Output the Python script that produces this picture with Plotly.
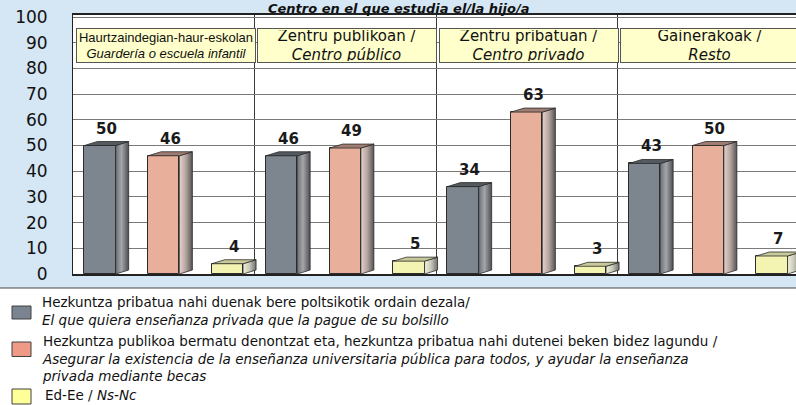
import plotly.graph_objects as go

# ---------------- data ----------------
categories_eu = ["Haurtzaindegian-haur-eskolan", "Zentru publikoan /", "Zentru pribatuan /", "Gainerakoak /"]
categories_es = ["Guardería o escuela infantil", "Centro público", "Centro privado", "Resto"]

private_pay = [50, 46, 34, 43]
public_guarantee = [46, 49, 63, 50]
ns_nc = [4, 5, 3, 7]

y_ticks = [0, 10, 20, 30, 40, 50, 60, 70, 80, 90, 100]

title_text = "Centro en el que estudia el/la hijo/a"

legend_lines = [
    ["Hezkuntza pribatua nahi duenak bere poltsikotik ordain dezala/",
     "<i>El que quiera enseñanza privada que la pague de su bolsillo</i>"],
    ["Hezkuntza publikoa bermatu denontzat eta, hezkuntza pribatua nahi dutenei beken bidez lagundu /",
     "<i>Asegurar la existencia de la enseñanza universitaria pública para todos, y ayudar la enseñanza</i>",
     "<i>privada mediante becas</i>"],
    ["Ed-Ee / <i>Ns-Nc</i>"],
]

# ---------------- styling ----------------
W, H = 796, 405
PL, PT, PW, PH = 73, 15, 723, 259
PX_PER_UNIT_Y = 2.57
GROUP_PX = 181.5

front_colors = ["#7d858e", "#e8af9a", "#f3f3b2"]
top_colors = ["#555a60", "#a07d72", "#c9c99a"]
side_scales = [
    [[0, "#6a6e74"], [0.45, "#a4a6aa"], [1, "#4c4e52"]],
    [[0, "#e6d2cc"], [0.5, "#b4a4a0"], [1, "#555555"]],
    [[0, "#f2f2de"], [0.5, "#c8c8b8"], [1, "#6e6e6e"]],
]
legend_colors = ["#7a8490", "#ee9a86", "#ffff99"]

offsets = [0.149, 0.5, 0.851]
bar_w = 0.172
dx = 13 / GROUP_PX
dy = 4 / PX_PER_UNIT_Y

FONT = "DejaVu Sans"


def pxx(px):
    return (px - PL) / PW


def pxy(py):
    return (PT + PH - py) / PH


series = [private_pay, public_guarantee, ns_nc]

fig = go.Figure()
annotations = []

# front bars
for s, vals in enumerate(series):
    xs = [i + offsets[s] for i in range(len(vals))]
    fig.add_trace(go.Bar(
        x=xs, y=vals, width=bar_w,
        marker=dict(color=front_colors[s], line=dict(color="#2b2b2b", width=1)),
        showlegend=False, hoverinfo="skip",
    ))

# 3D sides and tops, computed from the data
for s, vals in enumerate(series):
    for i, v in enumerate(vals):
        xc = i + offsets[s]
        xl = xc - bar_w / 2
        xr = xc + bar_w / 2
        fig.add_trace(go.Scatter(
            x=[xr, xr + dx, xr + dx, xr, xr],
            y=[0, dy, v + dy, v, 0],
            mode="lines", fill="toself",
            fillgradient=dict(type="horizontal", colorscale=side_scales[s]),
            line=dict(color="#2b2b2b", width=0.8),
            showlegend=False, hoverinfo="skip",
        ))
        fig.add_trace(go.Scatter(
            x=[xl, xl + dx, xr + dx, xr, xl],
            y=[v, v + dy, v + dy, v, v],
            mode="lines", fill="toself", fillcolor=top_colors[s],
            line=dict(color="#2b2b2b", width=0.8),
            showlegend=False, hoverinfo="skip",
        ))
        annotations.append(dict(
            x=xc + dx / 2, y=v + dy, xref="x", yref="y",
            text="<b>%d</b>" % v, showarrow=False, yanchor="bottom", yshift=2,
            font=dict(family=FONT, size=15, color="#1a1a1a"),
        ))

# category boxes
box_y = (PT + PH - 45.5) / PX_PER_UNIT_Y
for i, (eu, es) in enumerate(zip(categories_eu, categories_es)):
    if i == 0:
        f = dict(family="Liberation Sans", size=13, color="#111")
    else:
        f = dict(family=FONT, size=15, color="#111")
    annotations.append(dict(
        x=i + 0.5, y=box_y, xref="x", yref="y", xshift=2,
        text=eu + "<br><i>" + es + "</i>", showarrow=False,
        width=176, height=31, bgcolor="#ffffcc", bordercolor="#555555",
        borderwidth=1, borderpad=1, font=f, align="center",
    ))

# title
annotations.append(dict(
    x=pxx(398), y=pxy(0), xref="paper", yref="paper",
    text="<b><i>" + title_text + "</i></b>", showarrow=False,
    yanchor="top", borderpad=0, font=dict(family=FONT, size=13, color="#111"),
))

# legend (manual)
shapes = []
shapes.append(dict(type="rect", xref="paper", yref="paper",
                   x0=pxx(-5), x1=pxx(W + 5), y0=pxy(H + 5), y1=pxy(288),
                   fillcolor="white", line=dict(width=0), layer="below"))
shapes.append(dict(type="line", xref="paper", yref="paper",
                   x0=pxx(0), x1=pxx(W), y0=pxy(288), y1=pxy(288),
                   line=dict(color="#4a4a4a", width=1.2)))

legend_center_y = [310.5, 358, 395]
legend_marker_y = [(306, 319), (342, 356.5), (389, 404)]
for k, lines in enumerate(legend_lines):
    y0, y1 = legend_marker_y[k]
    shapes.append(dict(type="rect", xref="paper", yref="paper",
                       x0=pxx(12), x1=pxx(31), y0=pxy(y1), y1=pxy(y0),
                       fillcolor=legend_colors[k], line=dict(color="#404040", width=1)))
    annotations.append(dict(
        x=pxx(40 if k < 2 else 43), y=pxy(legend_center_y[k]), xref="paper", yref="paper",
        text="<br>".join(lines), showarrow=False, xanchor="left", yanchor="middle",
        align="left", font=dict(family=FONT, size=13.5, color="#111"),
    ))

fig.update_layout(
    width=W, height=H,
    margin=dict(l=PL, r=W - PL - PW, t=PT, b=H - PT - PH, pad=0),
    paper_bgcolor="#d5e6f4", plot_bgcolor="white",
    barmode="overlay", bargap=0,
    showlegend=False,
    annotations=annotations, shapes=shapes,
    xaxis=dict(range=[0, PW / GROUP_PX], tickvals=[1, 2, 3], showticklabels=False,
               showgrid=True, gridcolor="#3a3a3a", gridwidth=1, zeroline=False,
               showline=True, linecolor="#222", linewidth=2, mirror=True, ticks=""),
    yaxis=dict(range=[0, PH / PX_PER_UNIT_Y], tickvals=y_ticks,
               ticktext=[str(t) for t in y_ticks], showgrid=True, gridcolor="#7a7a7a",
               gridwidth=1.3, zeroline=False, showline=True, linecolor="#222", linewidth=1,
               ticks="", ticklabelstandoff=21,
               tickfont=dict(family=FONT, size=17, color="#111")),
)

fig.write_html("out.html", config={"displayModeBar": False},
               post_script="document.body.style.margin='0px';")
